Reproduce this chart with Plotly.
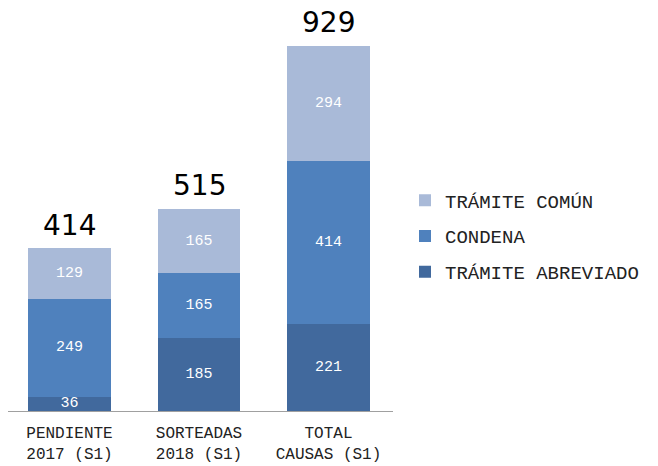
import plotly.graph_objects as go

categories = ["PENDIENTE<br>2017 (S1)", "SORTEADAS<br>2018 (S1)", "TOTAL<br>CAUSAS (S1)"]
abreviado = [36, 185, 221]
condena = [249, 165, 414]
comun = [129, 165, 294]
totals = [414, 515, 929]

series = [
    ("TRÁMITE ABREVIADO", abreviado, "#41699D"),
    ("CONDENA", condena, "#4F81BD"),
    ("TRÁMITE COMÚN", comun, "#A9BAD8"),
]

mono = "Liberation Mono, Courier New, monospace"

fig = go.Figure()
for i, (name, vals, color) in enumerate(series):
    fig.add_trace(go.Bar(
        name=name, x=categories, y=vals,
        marker=dict(color=color, line=dict(width=0)),
        text=vals, textposition="inside", insidetextanchor="middle",
        constraintext="none",
        textfont=dict(family=mono, size=15, color="white"),
        legendgroup=name, legendrank=10 - i, hoverinfo="skip",
    ))

for c, t in zip(categories, totals):
    fig.add_annotation(x=c, y=t, text=str(t), showarrow=False,
                       yanchor="middle", yshift=23, borderpad=0,
                       font=dict(family="DejaVu Sans, Verdana, sans-serif", size=28, color="black"))

W, H = 650, 458
fig.update_layout(
    barmode="stack", bargap=0.36,
    width=W, height=H,
    margin=dict(l=0, r=265, t=12, b=55),
    plot_bgcolor="white", paper_bgcolor="white",
    showlegend=True,
    legend=dict(traceorder="grouped", tracegroupgap=8,
                xref="container", yref="container",
                x=397/W, xanchor="left", y=1-228.5/H, yanchor="middle",
                font=dict(family=mono, size=19, color="#222222"),
                itemwidth=30),
    xaxis=dict(showline=True, linecolor="#A0A0A0", linewidth=1, ticks="",
               range=[-0.475, 2.498], ticklabelstandoff=7, automargin=False,
               tickfont=dict(family=mono, size=16, color="#222222"),
               showgrid=False),
    yaxis=dict(visible=False, range=[0, 995], showgrid=False, automargin=False),
)

fig.write_html("out.html")
